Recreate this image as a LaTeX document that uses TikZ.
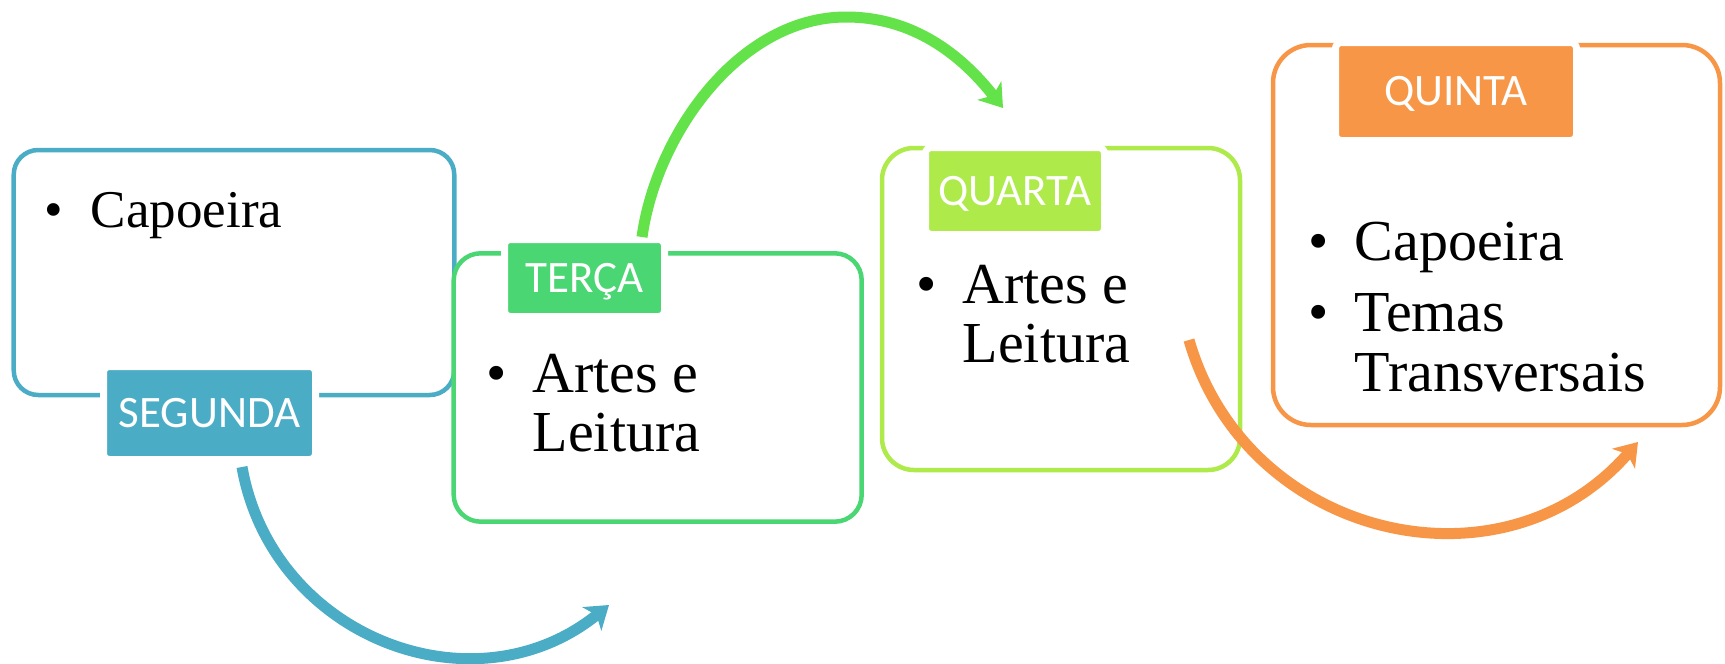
\documentclass[tikz,border=0pt]{standalone}
\usepackage{fontspec}
\setmainfont{Liberation Serif}
\newfontfamily\daysfont{Carlito}
\usetikzlibrary{arrows.meta}

\definecolor{segblue}{HTML}{4BACC6}
\definecolor{tergreen}{HTML}{4AD672}
\definecolor{arrgreen}{HTML}{63E24A}
\definecolor{qualime}{HTML}{ADEA4A}
\definecolor{quiorange}{HTML}{F79646}

\newcommand{\bl}{\makebox[4.6mm][l]{\textbullet}}

\begin{document}
\begin{tikzpicture}[
daybox/.style={rectangle, draw=#1, fill=white, line width=0.45mm, inner sep=0pt},
daytag/.style={rectangle, fill=#1, draw=white, line width=0.7mm, rounded corners=0.6mm, inner sep=0pt,
    text=white, font=\daysfont\fontsize{12.8}{15}\selectfont, text height=2.85mm, text depth=0pt},
items/.style={anchor=base west, inner sep=0pt, font=\fontsize{16.5}{17.07}\selectfont},
curved/.style={draw=#1, line width=1.1mm, -{Stealth[length=2.2mm, width=3mm, inset=0.6mm]}},
]
\useasboundingbox (0,0) rectangle (17.25,6.63);

% the four day boxes
\node[daybox=segblue, rounded corners=2.45mm, minimum width=44.05mm, minimum height=24.5mm] (segbox) at (2.34,3.905) {};
\node[daybox=tergreen, rounded corners=2.7mm, minimum width=40.8mm, minimum height=26.84mm] (terbox) at (6.577,2.755) {};
\node[daybox=qualime, rounded corners=3.2mm, minimum width=35.8mm, minimum height=32.2mm] (quabox) at (10.61,3.54) {};
\node[daybox=quiorange, rounded corners=3.8mm, minimum width=44.7mm, minimum height=38mm] (quibox) at (14.965,4.28) {};

% day tags
\node[daytag=segblue, minimum width=21.2mm, minimum height=9.3mm] (segtag) at (2.095,2.50) {SEGUNDA};
\node[daytag=tergreen, minimum width=16mm, minimum height=7.7mm] (tertag) at (5.845,3.85) {TERÇA};
\node[daytag=qualime, minimum width=17.9mm, minimum height=8.7mm] (quatag) at (10.15,4.72) {QUARTA};
\node[daytag=quiorange, minimum width=24.1mm, minimum height=9.8mm] (quitag) at (14.56,5.715) {QUINTA};

% activities
\node[items, font=\fontsize{15.1}{17.07}\selectfont] (segitems) at (0.44,4.36) {\begin{tabular}[t]{@{}l@{}}\bl Capoeira\end{tabular}};
\node[items] (teritems) at (4.86,2.71) {\begin{tabular}[t]{@{}l@{}}\bl Artes e\\\hspace*{4.6mm}Leitura\end{tabular}};
\node[items] (quaitems) at (9.16,3.60) {\begin{tabular}[t]{@{}l@{}}\bl Artes e\\\hspace*{4.6mm}Leitura\end{tabular}};
\node[items] (quiitems) at (13.08,4.03) {\begin{tabular}[t]{@{}l@{}}\bl Capoeira\\[1.2mm]\bl Temas\\\hspace*{4.6mm}Transversais\end{tabular}};

% arrows between the days
\coordinate (segout) at (2.42,1.96);
\coordinate (terin) at (6.09,0.58);
\coordinate (terout) at (6.42,4.26);
\coordinate (arctop) at (8.46,6.46);
\coordinate (quain) at (10.03,5.55);
\coordinate (quaout) at (11.89,3.23);
\coordinate (quiin) at (16.38,2.21);

\draw[curved=segblue] (segout) to[out=280, in=219, looseness=1.13] (terin);
\draw[curved=arrgreen] (terout) to[out=82, in=180, looseness=0.9] (arctop) to[out=0, in=128, looseness=0.95] (quain);
\draw[curved=quiorange] (quaout) to[out=286, in=229, looseness=1.15] (quiin);
\end{tikzpicture}
\end{document}
